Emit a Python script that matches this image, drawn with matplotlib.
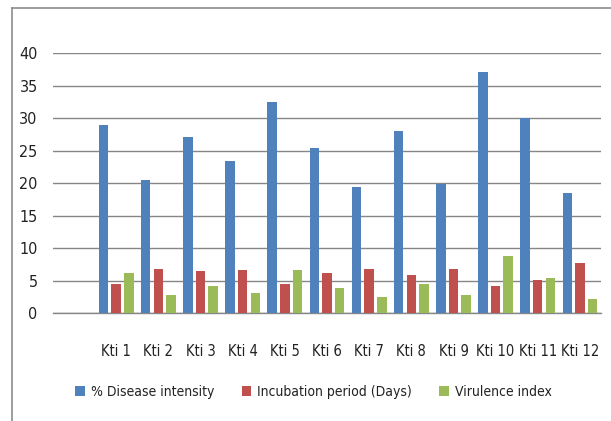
import numpy as np
import matplotlib.pyplot as plt
from matplotlib.lines import Line2D

plt.rcParams['font.family'] = ['DejaVu Sans']
plt.rcParams['font.stretch'] = 'condensed'

# first category is empty, as in the original chart
categories = ["", "Kti 1", "Kti 2", "Kti 3", "Kti 4", "Kti 5", "Kti 6",
              "Kti 7", "Kti 8", "Kti 9", "Kti 10", "Kti 11", "Kti 12"]
disease = [np.nan, 29.0, 20.5, 27.1, 23.4, 32.5, 25.4, 19.4, 28.0, 19.9, 37.1, 30.0, 18.5]
incubation = [np.nan, 4.4, 6.8, 6.4, 6.7, 4.5, 6.2, 6.8, 5.9, 6.8, 4.1, 5.1, 7.7]
virulence = [np.nan, 6.1, 2.8, 4.1, 3.1, 6.7, 3.9, 2.5, 4.4, 2.7, 8.8, 5.4, 2.2]

colors = ["#4F81BD", "#C0504D", "#9BBB59"]
names = ["% Disease intensity", "Incubation period (Days)", "Virulence index"]

fig = plt.figure(figsize=(6.11, 4.21), dpi=100)
ax = fig.add_axes([0.0867, 0.2565, 0.8969, 0.6169])

x = np.arange(len(categories))
w = 0.225
step = 0.3
for i, (vals, c, n) in enumerate(zip([disease, incubation, virulence], colors, names)):
    ax.bar(x + (i - 1) * step, vals, width=w, color=c, label=n, zorder=3)

ax.set_xlim(-0.5, len(categories) - 0.5)
ax.set_ylim(0, 40)
ax.set_yticks(range(0, 41, 5))
ax.grid(axis='y', color='#868686', linewidth=1.0, zorder=0)
ax.set_xticks(x)
ax.set_xticklabels(categories)
ax.tick_params(axis='x', length=0, pad=22, labelsize=10.5, labelcolor='#222222')
ax.tick_params(axis='y', length=0, pad=11, labelsize=11.5, labelcolor='#222222')
for s in ['top', 'right', 'left']:
    ax.spines[s].set_visible(False)
ax.spines['bottom'].set_color('#868686')
ax.spines['bottom'].set_linewidth(1.0)

leg = fig.legend(loc='center', bbox_to_anchor=(0.513, 0.069), ncol=3, frameon=False,
                 fontsize=10, handlelength=0.7, handleheight=0.7, handletextpad=0.4,
                 columnspacing=2.0)
for t in leg.get_texts():
    t.set_color('#222222')

# outer chart border (top and left edges visible)
fig.add_artist(Line2D([0.0196, 1.0], [0.981, 0.981], color='#8c8c8c', linewidth=1.2))
fig.add_artist(Line2D([0.0196, 0.0196], [0.0, 0.981], color='#8c8c8c', linewidth=1.2))

fig.savefig("out.png", dpi=100)
